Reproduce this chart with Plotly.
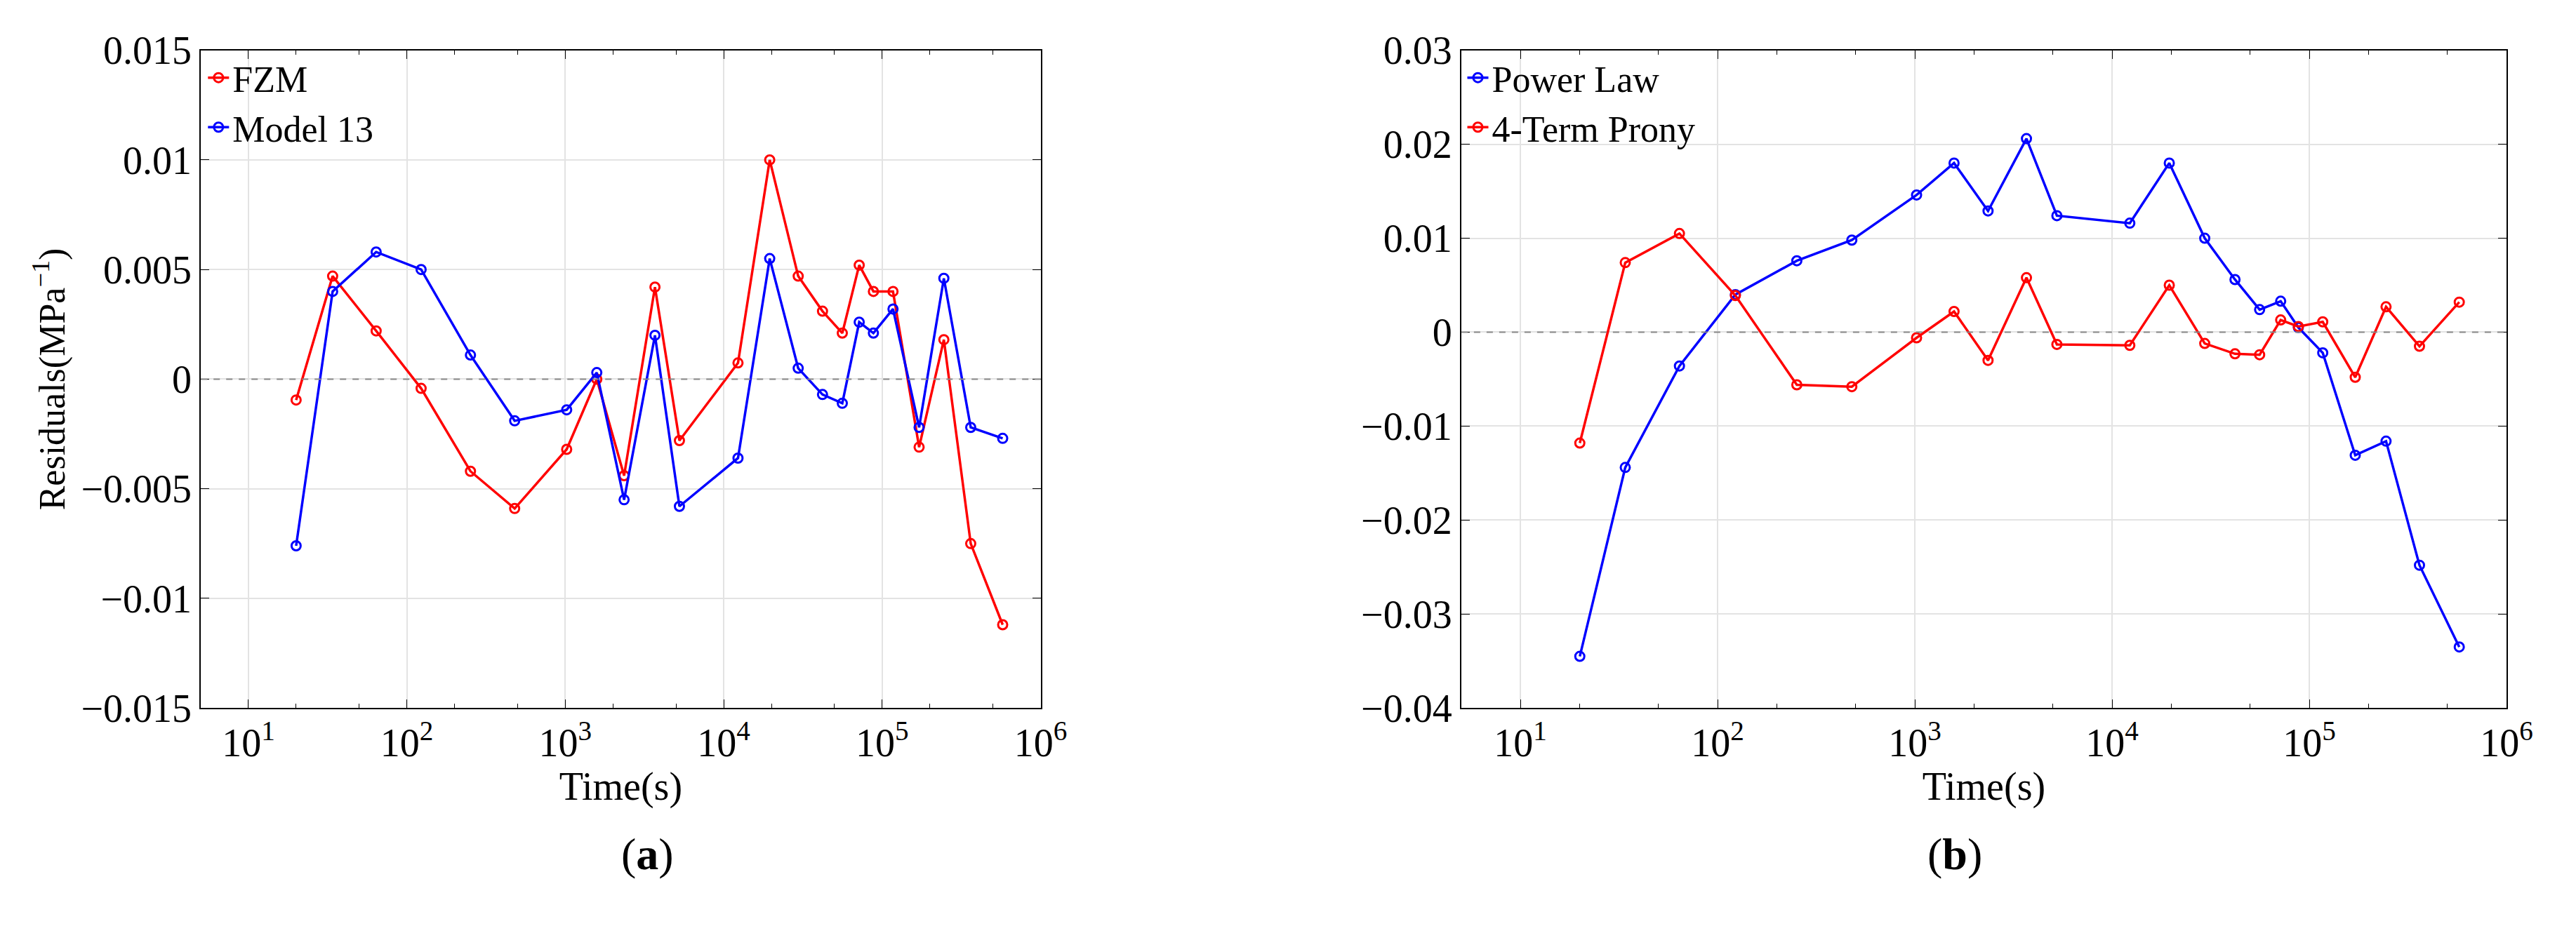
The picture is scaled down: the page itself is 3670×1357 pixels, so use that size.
import plotly.graph_objects as go
from plotly.subplots import make_subplots

# tiempos de medida (s)
tiempo = [20, 34, 64, 123, 252, 479, 1020, 1580, 2350, 3680, 5250, 12300, 19500,
          29500, 42000, 56000, 71600, 88000, 117000, 171000, 245000, 362000, 576000]

# panel (a)
fzm = [-0.00095, 0.0047, 0.0022, -0.00042, -0.0042, -0.0059, -0.0032, 0.0, -0.0044,
       0.0042, -0.0028, 0.00074, 0.010, 0.0047, 0.0031, 0.0021, 0.0052, 0.0040,
       0.0040, -0.0031, 0.0018, -0.0075, -0.0112]
model13 = [-0.0076, 0.0040, 0.0058, 0.0050, 0.0011, -0.0019, -0.0014, 0.0003, -0.0055,
           0.0020, -0.0058, -0.0036, 0.0055, 0.0005, -0.0007, -0.0011, 0.0026, 0.0021,
           0.0032, -0.0022, 0.0046, -0.0022, -0.0027]

# panel (b)
power_law = [-0.0345, -0.0144, -0.0036, 0.0040, 0.0076, 0.0098, 0.0146, 0.0180, 0.0129,
             0.0206, 0.0124, 0.0116, 0.0180, 0.0100, 0.0056, 0.0024, 0.0033, 0.0005,
             -0.0022, -0.0131, -0.0116, -0.0248, -0.0335]
prony = [-0.0118, 0.0074, 0.0105, 0.0039, -0.0056, -0.0058, -0.0006, 0.0022, -0.0030,
         0.0058, -0.0013, -0.0014, 0.0050, -0.0012, -0.0023, -0.0024, 0.0013, 0.0006,
         0.0011, -0.0048, 0.0027, -0.0015, 0.0032]

decadas = [10, 100, 1000, 10000, 100000, 1000000]
etiquetas_x = ["10<sup>%d</sup>" % i for i in range(1, 7)]

FUENTE = "Liberation Serif"
ROJO = "#ff0000"
AZUL = "#0000ff"

fig = make_subplots(rows=1, cols=2, horizontal_spacing=0.165)


def serie(x, y, nombre, color, leyenda):
    return go.Scatter(x=x, y=y, mode="lines+markers", name=nombre, legend=leyenda,
                      line=dict(color=color, width=3.5),
                      marker=dict(symbol="circle-open", size=13, color=color,
                                  line=dict(width=3, color=color)))


fig.add_trace(serie(tiempo, fzm, "FZM", ROJO, "legend"), row=1, col=1)
fig.add_trace(serie(tiempo, model13, "Model 13", AZUL, "legend"), row=1, col=1)
fig.add_trace(serie(tiempo, power_law, "Power Law", AZUL, "legend2"), row=1, col=2)
fig.add_trace(serie(tiempo, prony, "4-Term Prony", ROJO, "legend2"), row=1, col=2)

ejes_x = dict(type="log", range=[0.7, 6], tickvals=decadas, ticktext=etiquetas_x,
              showline=True, linecolor="black", linewidth=2, mirror="ticks",
              ticks="inside", ticklen=12, tickcolor="black",
              minor=dict(ticks="inside", ticklen=6, tickcolor="black", showgrid=False),
              showgrid=True, gridcolor="#e3e3e3", gridwidth=2, zeroline=False,
              title=dict(text="Time(s)", standoff=8, font=dict(size=56, family=FUENTE)),
              tickfont=dict(size=56, family=FUENTE))
ejes_y = dict(showline=True, linecolor="black", linewidth=2, mirror="ticks",
              ticks="inside", ticklen=12, tickcolor="black",
              showgrid=True, gridcolor="#e3e3e3", gridwidth=2, zeroline=False,
              tickfont=dict(size=56, family=FUENTE))

fig.update_xaxes(**ejes_x)
fig.update_xaxes(domain=[0.0766, 0.406], row=1, col=1)
fig.update_xaxes(domain=[0.571, 0.981], row=1, col=2)
fig.update_yaxes(**ejes_y)
fig.update_yaxes(range=[-0.015, 0.015], dtick=0.005, domain=[0.25, 0.974],
                 title=dict(text="Residuals(MPa<sup>−1</sup>)", standoff=6,
                            font=dict(size=52, family=FUENTE)), row=1, col=1)
fig.update_yaxes(range=[-0.04, 0.03], dtick=0.01, domain=[0.25, 0.974], row=1, col=2)

# linea de cero discontinua
for col in (1, 2):
    fig.add_hline(y=0, line=dict(color="#888888", width=2, dash="dash"), row=1, col=col)

fig.add_annotation(text="(<b>a</b>)", x=0.241, y=0.06, xref="paper", yref="paper",
                   showarrow=False, font=dict(size=64, family=FUENTE, color="black"))
fig.add_annotation(text="(<b>b</b>)", x=0.776, y=0.06, xref="paper", yref="paper",
                   showarrow=False, font=dict(size=64, family=FUENTE, color="black"))

fig.update_layout(
    width=3670, height=1357,
    paper_bgcolor="white", plot_bgcolor="white",
    margin=dict(l=0, r=0, t=0, b=0),
    font=dict(family=FUENTE, size=56, color="black"),
    legend=dict(x=0.078, y=0.975, xanchor="left", yanchor="top", bgcolor="rgba(0,0,0,0)",
                font=dict(size=52, family=FUENTE), tracegroupgap=0),
    legend2=dict(x=0.572, y=0.975, xanchor="left", yanchor="top", bgcolor="rgba(0,0,0,0)",
                 font=dict(size=52, family=FUENTE), tracegroupgap=0),
)

fig.write_html("out.html")
